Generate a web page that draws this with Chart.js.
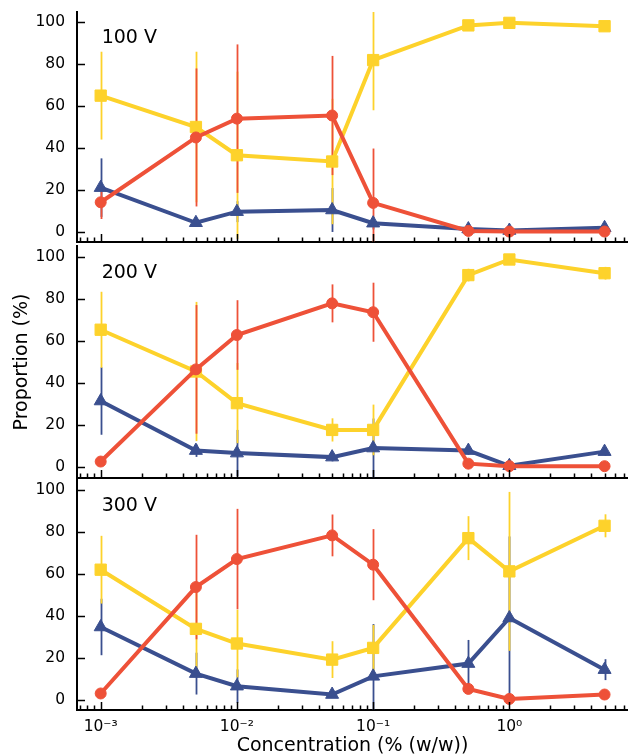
<!DOCTYPE html>
<html>
<head>
<meta charset="UTF-8">
<title>Proportion vs concentration</title>
<script src="https://cdn.jsdelivr.net/npm/chart.js"></script>
<style>
  body { margin: 0; background: #fff; }
  #wrap { position: relative; width: 628px; height: 756px; overflow: hidden; }
  canvas { position: absolute; left: 0; }
</style>
</head>
<body>
<div id="wrap">
  <canvas id="c1" width="628" height="244" style="top:0px"></canvas>
  <canvas id="c2" width="628" height="236" style="top:244px"></canvas>
  <canvas id="c3" width="628" height="278" style="top:478px"></canvas>
</div>
<script>
// x values (% w/w) shared by every panel
const concentrations = [0.001, 0.005, 0.01, 0.05, 0.1, 0.5, 1, 5];
const panelLabels = ['100 V', '200 V', '300 V'];
const yTickValues = [0, 20, 40, 60, 80, 100];
const xTickValues = [0.001, 0.01, 0.1, 1];

// 100 V
const blue100 = [21, 4.2, 9.5, 10.3, 4, 1.2, 0.5, 1.8];
const blueErr100 = [14, 2, 5, 10.5, 3, 1, 1, 1];
const yellow100 = [65, 50, 36.5, 33.5, 82, 98.6, 99.8, 98.2];
const yellowErr100 = [21, 36, 40, 30, 24, 1.5, 1, 1.5];
const red100 = [14, 45, 54, 55.5, 13.7, 0.3, 0, 0];
const redErr100 = [8, 33, 35.5, 28.5, 26, 0.5, 0.5, 0.5];

// 200 V
const blue200 = [31.5, 8, 6.8, 4.9, 9.2, 8, 0.8, 7.5];
const blueErr200 = [16, 3, 11, 2, 14, 2, 0.5, 2];
const yellow200 = [65.3, 45.5, 30.5, 17.8, 17.8, 91.2, 98.6, 92.1];
const yellowErr200 = [18, 33, 19, 5.5, 12, 3, 1, 3];
const red200 = [2.8, 46.5, 62.8, 77.8, 73.6, 1.8, 0.6, 0.6];
const redErr200 = [1, 30.5, 16.5, 9, 14, 1, 0.5, 0.5];

// 300 V
const blue300 = [34.7, 12.4, 6.4, 2.4, 11.1, 17.2, 39, 14.3];
const blueErr300 = [13.5, 10, 8, 1, 25, 11.3, 39, 5];
const yellow300 = [62.1, 33.8, 26.8, 19.1, 24.7, 77.2, 61.3, 83.1];
const yellowErr300 = [16.2, 20, 16.2, 8.8, 11, 10.5, 38, 5.5];
const red300 = [2.9, 53.8, 67.2, 78.5, 64.5, 5.1, 0.3, 2.4];
const redErr300 = [1, 25, 24, 10, 17, 1, 0.5, 0.5];

const BLUE = '#3a4f8f';
const YELLOW = '#fdd22b';
const RED = '#ee5138';

Chart.defaults.font.family = "'DejaVu Sans', sans-serif";
Chart.defaults.color = '#000';

const SUP = { '-': '\u207B', '0': '\u2070', '1': '\u00B9', '2': '\u00B2', '3': '\u00B3',
  '4': '\u2074', '5': '\u2075', '6': '\u2076', '7': '\u2077', '8': '\u2078', '9': '\u2079' };
function powLabel(v) {
  const e = String(Math.round(Math.log10(v)));
  return '10' + e.split('').map(c => SUP[c]).join('');
}

function toPoints(ys) {
  return concentrations.map((x, i) => ({ x: x, y: ys[i] }));
}

// vertical error bars, drawn under the lines (blue, yellow, red)
const errorBars = {
  id: 'errorBars',
  beforeDatasetsDraw(chart) {
    const { ctx, chartArea, scales } = chart;
    ctx.save();
    ctx.beginPath();
    ctx.rect(chartArea.left, chartArea.top, chartArea.right - chartArea.left, chartArea.bottom - chartArea.top);
    ctx.clip();
    ctx.lineWidth = 1.8;
    chart.data.datasets.forEach(ds => {
      ctx.strokeStyle = ds.borderColor;
      ds.data.forEach((p, i) => {
        const e = ds.errors[i];
        const px = Math.round(scales.x.getPixelForValue(p.x)) + 0.5;
        ctx.beginPath();
        ctx.moveTo(px, scales.y.getPixelForValue(p.y - e));
        ctx.lineTo(px, scales.y.getPixelForValue(p.y + e));
        ctx.stroke();
      });
    });
    ctx.restore();
  }
};

// inward ticks like matplotlib + the voltage label
const axisDecor = {
  id: 'axisDecor',
  afterDatasetsDraw(chart, args, opts) {
    const { ctx, chartArea, scales } = chart;
    const xs = scales.x, ys = scales.y;
    ctx.save();
    ctx.strokeStyle = '#000';
    ctx.lineWidth = 1.5;
    ctx.beginPath();
    for (let e = -4; e <= 1; e++) {
      for (let m = 1; m <= 9; m++) {
        const v = m * Math.pow(10, e);
        if (v < xs.min || v > xs.max) continue;
        const px = Math.round(xs.getPixelForValue(v)) + 0.5;
        ctx.moveTo(px, chartArea.bottom);
        ctx.lineTo(px, chartArea.bottom - (m === 1 ? 8 : 4.5));
      }
    }
    yTickValues.forEach(v => {
      const py = Math.round(ys.getPixelForValue(v)) + 0.5;
      ctx.moveTo(chartArea.left, py);
      ctx.lineTo(chartArea.left + 8, py);
    });
    ctx.stroke();

    ctx.fillStyle = '#000';
    ctx.font = "19px 'DejaVu Sans'";
    ctx.textAlign = 'left';
    ctx.textBaseline = 'alphabetic';
    ctx.fillText(opts.text, xs.getPixelForValue(concentrations[0]) + 1, ys.getPixelForValue(90));
    ctx.restore();
  }
};

function makePanel(id, idx, blue, blueErr, yellow, yellowErr, red, redErr) {
  const last = idx === 2;
  const middle = idx === 1;
  return new Chart(document.getElementById(id), {
    type: 'line',
    data: {
      datasets: [
        { data: toPoints(blue), errors: blueErr, borderColor: BLUE, backgroundColor: BLUE,
          pointStyle: 'triangle', pointRadius: 7.5, order: 3 },
        { data: toPoints(yellow), errors: yellowErr, borderColor: YELLOW, backgroundColor: YELLOW,
          pointStyle: 'rect', pointRadius: 8, order: 2 },
        { data: toPoints(red), errors: redErr, borderColor: RED, backgroundColor: RED,
          pointStyle: 'circle', pointRadius: 5.5, order: 1 }
      ]
    },
    options: {
      responsive: false,
      animation: false,
      events: [],
      devicePixelRatio: 1,
      layout: { autoPadding: false, padding: { top: idx === 0 ? 12 : 2, right: 0, bottom: 0, left: 0 } },
      elements: {
        line: { borderWidth: 4, tension: 0 },
        point: { borderWidth: 1 }
      },
      scales: {
        x: {
          type: 'logarithmic',
          min: 6.7e-4,
          max: 7.43,
          grid: { display: false, drawTicks: false },
          border: { display: true, color: '#000', width: 2 },
          ticks: { display: last, padding: 8, font: { size: 15.5 }, callback: v => powLabel(v) },
          title: { display: last, text: 'Concentration (% (w/w))', font: { size: 19, lineHeight: 1.0 },
            padding: { top: 0, bottom: 0 } },
          afterBuildTicks: s => { s.ticks = xTickValues.map(v => ({ value: v })); },
          afterFit: s => { s.height = last ? 46 : 2; s.paddingLeft = 0; s.paddingRight = 0; }
        },
        y: {
          min: -5,
          max: 105,
          grid: { display: false, drawTicks: false },
          border: { display: true, color: '#000', width: 2 },
          ticks: { padding: 12, font: { size: 15.5 } },
          title: { display: middle, text: 'Proportion (%)', font: { size: 19 }, padding: { top: 11, bottom: 0 } },
          afterBuildTicks: s => { s.ticks = yTickValues.map(v => ({ value: v })); },
          afterFit: s => { s.width = 77; s.paddingTop = 0; s.paddingBottom = 0; }
        }
      },
      plugins: {
        legend: { display: false },
        tooltip: { enabled: false },
        axisDecor: { text: panelLabels[idx] }
      }
    },
    plugins: [errorBars, axisDecor]
  });
}

makePanel('c1', 0, blue100, blueErr100, yellow100, yellowErr100, red100, redErr100);
makePanel('c2', 1, blue200, blueErr200, yellow200, yellowErr200, red200, redErr200);
makePanel('c3', 2, blue300, blueErr300, yellow300, yellowErr300, red300, redErr300);
</script>
</body>
</html>
